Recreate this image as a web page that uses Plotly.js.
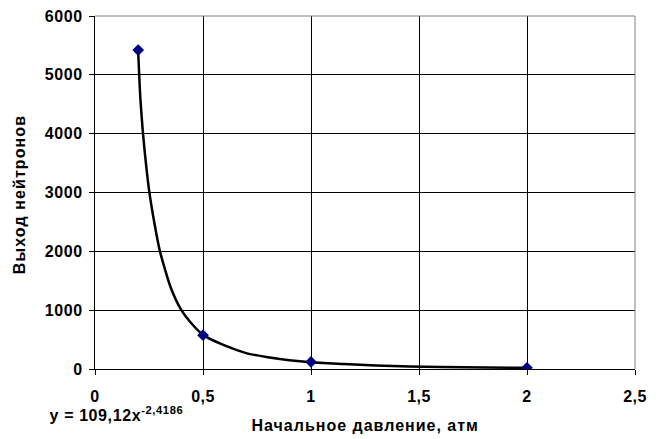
<!DOCTYPE html>
<html>
<head>
<meta charset="utf-8">
<script src="https://cdn.plot.ly/plotly-3.0.1.min.js"></script>
<style>
html,body{margin:0;padding:0;background:#fff;}
#chart{width:661px;height:439px;}
#chart .xtick text{letter-spacing:0.5px !important;}
#chart .ytick text{letter-spacing:0.6px !important;}
#chart .annotation-text{letter-spacing:0.6px !important;}
#chart .annotation.xt .annotation-text{letter-spacing:1px !important;}
#chart .annotation.yt .annotation-text{letter-spacing:1.1px !important;}
</style>
</head>
<body>
<div id="chart"></div>
<script>
// measured data points
const pressure = [0.2, 0.5, 1, 2];
const neutronYield = [5420, 575, 120, 20];

// power trendline
const trendX = [0.2, 0.21, 0.22, 0.23, 0.25, 0.275, 0.3, 0.35, 0.4, 0.45, 0.5, 0.6, 0.7, 0.8, 0.9, 1.0, 1.15, 1.3, 1.6, 2.0];
const trendY = [5380, 4600, 4100, 3700, 3050, 2480, 2010, 1390, 1000, 760, 580, 400, 270, 200, 150, 115, 85, 58, 33, 20];

const xTicks = [0, 0.5, 1, 1.5, 2, 2.5];
const yTicks = [0, 1000, 2000, 3000, 4000, 5000, 6000];

const equationText = 'y = 109,12x<sup>-2,4186</sup>';
const xTitle = 'Начальное давление, атм';
const yTitle = 'Выход нейтронов';

const font = {family: 'Liberation Sans, Arial, sans-serif', size: 16, color: '#000', weight: 'bold'};

const traces = [
  {
    x: trendX, y: trendY, mode: 'lines', type: 'scatter',
    line: {color: '#000', width: 2.5, shape: 'spline', smoothing: 0.6},
    hoverinfo: 'skip', showlegend: false
  },
  {
    x: pressure, y: neutronYield, mode: 'markers', type: 'scatter',
    marker: {symbol: 'diamond', size: 9, color: '#000080'},
    showlegend: false
  }
];

const layout = {
  width: 661, height: 439,
  margin: {l: 95, r: 26, t: 16, b: 70},
  paper_bgcolor: '#fff', plot_bgcolor: '#fff',
  separators: ', ',
  font: font,
  showlegend: false,
  xaxis: {
    range: [0, 2.5], tickvals: xTicks, ticktext: xTicks.map(v => String(v).replace('.', ',')),
    showgrid: true, gridcolor: '#000', gridwidth: 1,
    showline: true, linecolor: '#000', linewidth: 1,
    ticks: 'outside', ticklen: 5, tickcolor: '#000', zeroline: false,
    tickfont: font, ticklabelstandoff: 8
  },
  yaxis: {
    range: [0, 6000], tickvals: yTicks,
    showgrid: true, gridcolor: '#000', gridwidth: 1,
    showline: true, linecolor: '#000', linewidth: 1,
    ticks: 'outside', ticklen: 5, tickcolor: '#000', zeroline: false,
    tickfont: font, ticklabelstandoff: 3
  },
  shapes: [
    {type: 'line', xref: 'paper', yref: 'paper', x0: 0, x1: 1, y0: 1, y1: 1, line: {color: '#808080', width: 1}, layer: 'above'},
    {type: 'line', xref: 'paper', yref: 'paper', x0: 1, x1: 1, y0: 0, y1: 1, line: {color: '#808080', width: 1}, layer: 'above'}
  ],
  annotations: [
    {text: equationText, xref: 'paper', yref: 'paper', x: -0.078, y: -0.127,
     xanchor: 'left', yanchor: 'middle', showarrow: false, font: font},
    {text: xTitle, xref: 'paper', yref: 'paper', x: 0.5, y: -0.161,
     xanchor: 'center', yanchor: 'middle', showarrow: false, font: font},
    {text: yTitle, xref: 'paper', yref: 'paper', x: -0.14, y: 0.494, textangle: -90,
     xanchor: 'center', yanchor: 'middle', showarrow: false, font: font}
  ]
};

Plotly.newPlot('chart', traces, layout, {displayModeBar: false, staticPlot: true}).then(() => {
  const anns = document.querySelectorAll('#chart .annotation');
  if (anns[1]) anns[1].classList.add('xt');
  if (anns[2]) anns[2].classList.add('yt');
});
</script>
</body>
</html>
